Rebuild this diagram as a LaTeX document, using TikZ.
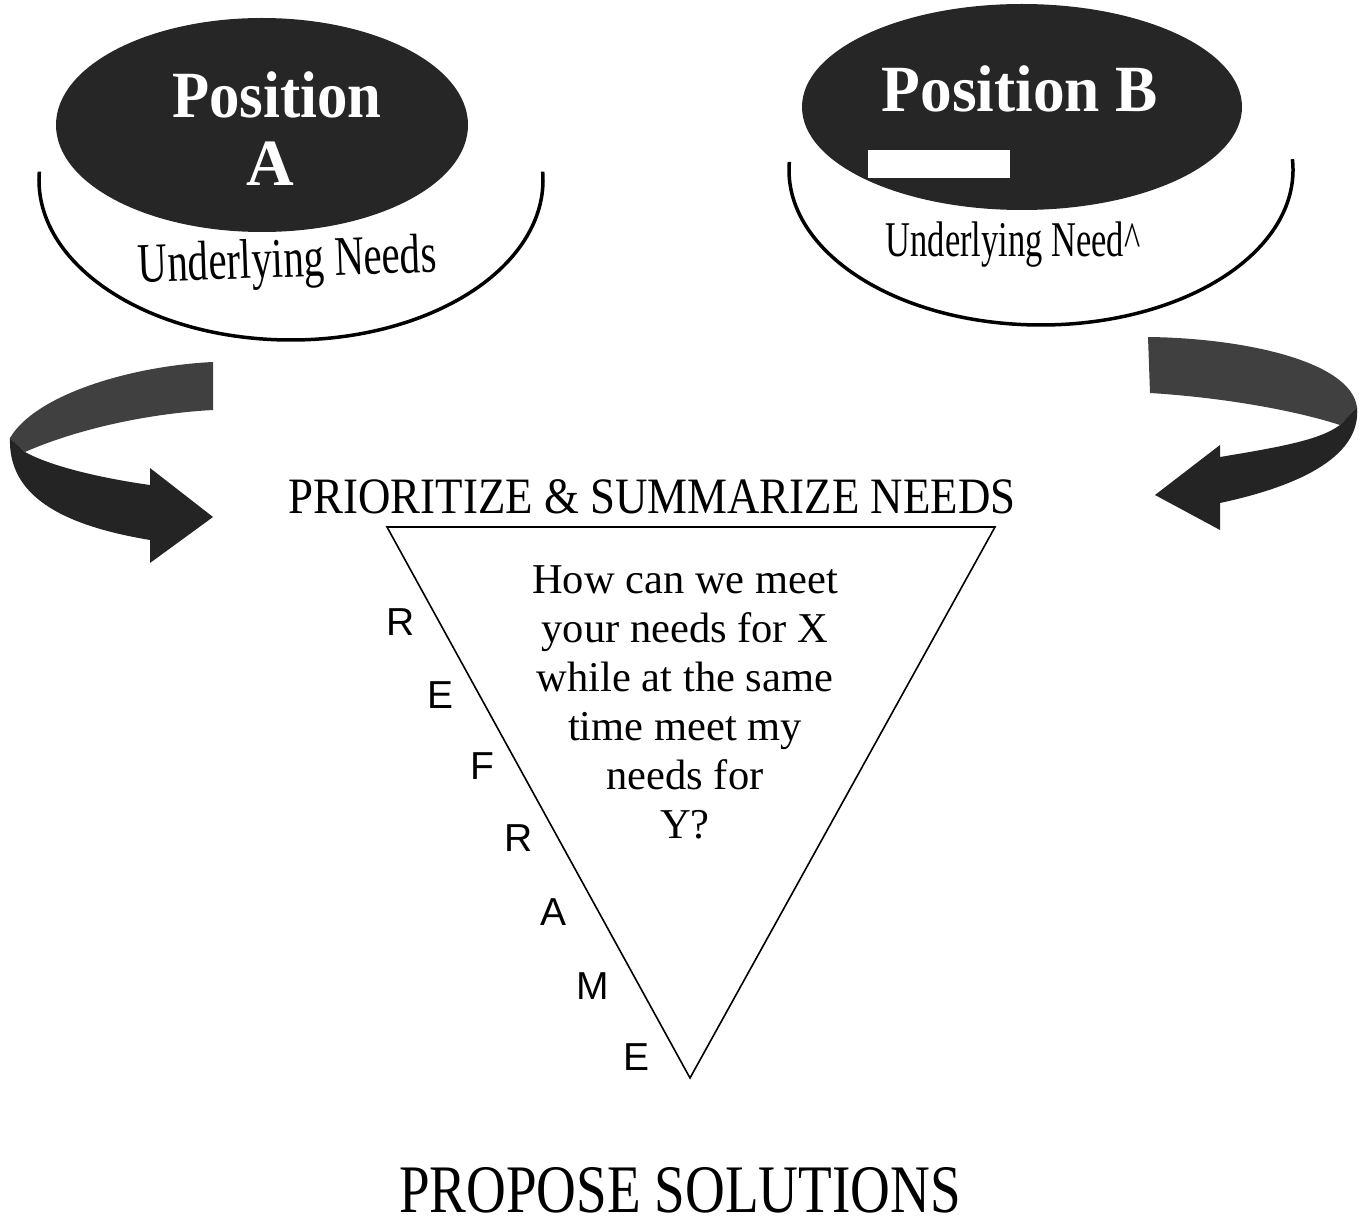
\documentclass[tikz,border=0pt]{standalone}
\usepackage{fontspec}
\setmainfont{Liberation Serif}
\setsansfont{Liberation Sans}
\usetikzlibrary{shapes.geometric}
\begin{document}
\begin{tikzpicture}[x=1pt,y=-1pt,
  posell/.style={ellipse, fill=black!85, draw=none, inner sep=0pt},
  postext/.style={text=white, font=\fontsize{66}{66}\selectfont\bfseries, inner sep=0pt, anchor=base},
  needtext/.style={inner sep=0pt, anchor=base},
  rimarc/.style={line width=3.5pt},
  backband/.style={fill=black!75, draw=none},
  frontband/.style={fill=black!86, draw=none},
  letter/.style={font=\sffamily\fontsize{39}{39}\selectfont, inner sep=0pt},
  tri/.style={draw, line width=1.6pt}]
\useasboundingbox (0,0) rectangle (1362,1230);

% ---------- Position A ----------
\node[posell, minimum width=412pt, minimum height=214pt] (ellA) at (262,125) {};
\node[postext, xscale=0.92] (posA) at (277,118) {Position};
\node[postext] (letA) at (270,186) {A};
\draw[rimarc] ([shift={(183:252 and 160)}]291,180) arc[start angle=183, end angle=-3, x radius=252, y radius=160];
\node[needtext, font=\fontsize{56}{56}\selectfont, rotate=2, xscale=0.73] (needA) at (288,277) {Underlying Needs};

% ---------- Position B ----------
\node[posell, minimum width=440pt, minimum height=206pt] (ellB) at (1022,107) {};
\node[postext, xscale=0.96] (posB) at (1020,112) {Position B};
\fill[white] (868,150) rectangle (1010,178);
\draw[rimarc] ([shift={(183:252 and 155)}]1041,170) arc[start angle=183, end angle=-4, x radius=252, y radius=155];
\node[needtext, font=\fontsize{50}{50}\selectfont, xscale=0.69] (needB) at (1013,257) {Underlying Need\^{}};

% ---------- left curved arrow ----------
\fill[backband] (213,362) .. controls (130,366) and (35,395) .. (10,438)
  -- (25,452) .. controls (70,432) and (140,414) .. (213,410) -- cycle;
\fill[frontband] (10,438) .. controls (8,495) and (60,525) .. (150,540)
  -- (150,563) -- (213,517) -- (150,468) -- (150,485)
  .. controls (100,478) and (50,466) .. (25,452) -- cycle;

% ---------- right curved arrow ----------
\fill[backband] (1148,337) .. controls (1240,338) and (1350,360) .. (1357,407)
  -- (1340,425) .. controls (1300,412) and (1230,398) .. (1150,393) -- cycle;
\fill[frontband] (1357,407) .. controls (1362,460) and (1290,488) .. (1220,503)
  -- (1220,530) -- (1155,495) -- (1220,445) -- (1220,457)
  .. controls (1280,447) and (1320,440) .. (1340,425) -- cycle;

% ---------- centre ----------
\node[font=\fontsize{51}{51}\selectfont, xscale=0.88, inner sep=0pt, anchor=base] (prio) at (652,513) {PRIORITIZE \& SUMMARIZE NEEDS};
\coordinate (tl) at (387,527);
\coordinate (tr) at (995,527);
\coordinate (tb) at (690,1078);
\draw[tri] (tl) -- (tr) -- (tb) -- cycle;

\node[font=\fontsize{42.5}{49}\selectfont, align=center, inner sep=0pt, anchor=north] (q) at (685,565)
  {How can we meet\\your needs for X\\while at the same\\time meet my\\needs for\\Y?};

\node[letter] (r1) at (401,622) {R};
\node[letter] (e1) at (441,695) {E};
\node[letter] (f1) at (482,766) {F};
\node[letter] (r2) at (519,838) {R};
\node[letter] (a1) at (553,912) {A};
\node[letter] (m1) at (593,986) {M};
\node[letter] (e2) at (636,1057) {E};

\node[font=\fontsize{68}{68}\selectfont, xscale=0.81, inner sep=0pt, anchor=base] (prop) at (680,1212) {PROPOSE SOLUTIONS};
\end{tikzpicture}
\end{document}
